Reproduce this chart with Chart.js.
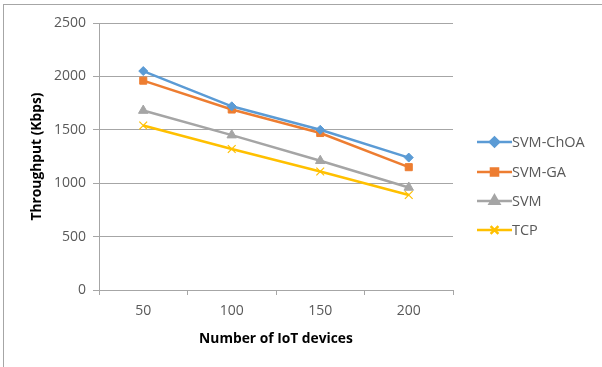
<!DOCTYPE html>
<html>
<head>
<meta charset="utf-8">
<script src="https://cdn.jsdelivr.net/npm/chart.js@4/dist/chart.umd.min.js"></script>
<style>
  html, body { margin: 0; padding: 0; background: #fff; }
  #wrap { position: relative; width: 602px; height: 367px; }
  #frame { position: absolute; left: 3px; top: 4px; width: 599px; height: 363px;
           border-left: 1px solid #a6a6a6; border-top: 1px solid #a6a6a6; box-sizing: border-box; }
  canvas { position: absolute; left: 0; top: 0; }
</style>
</head>
<body>
<div id="wrap">
  <div id="frame"></div>
  <canvas id="c" width="602" height="367"></canvas>
</div>
<script>
// Throughput per number of IoT devices
const categories = ['50', '100', '150', '200'];
const svmChoa = [2050, 1720, 1500, 1240];
const svmGa   = [1960, 1690, 1470, 1150];
const svm     = [1680, 1450, 1210, 960];
const tcp     = [1540, 1320, 1110, 890];
const yTicks  = [0, 500, 1000, 1500, 2000, 2500];

const FONT = '"Open Sans", Lato, sans-serif';
const TEXT = '#595959';
const GRID = '#a6a6a6';

// Legend on the right: line segment with marker, then the label
const sideLegend = {
  id: 'sideLegend',
  afterDraw(chart) {
    const ctx = chart.ctx;
    const ys = [142, 172, 201, 230];
    chart.data.datasets.forEach((ds, i) => {
      const y = ys[i];
      ctx.save();
      ctx.strokeStyle = ds.borderColor;
      ctx.lineWidth = 2.5;
      ctx.beginPath();
      ctx.moveTo(477, y);
      ctx.lineTo(512, y);
      ctx.stroke();
      ctx.fillStyle = ds.borderColor;
      ctx.strokeStyle = ds.borderColor;
      Chart.helpers.drawPoint(ctx, {
        pointStyle: ds.pointStyle,
        radius: ds.pointRadius,
        borderWidth: ds.pointBorderWidth || 1
      }, 494.5, y);
      ctx.fillStyle = TEXT;
      ctx.font = '14.5px ' + FONT;
      ctx.textBaseline = 'middle';
      ctx.textAlign = 'left';
      ctx.fillText(ds.label, 512, y + 1);
      ctx.restore();
    });
  }
};

function series(label, data, color, style, radius, pbw) {
  return {
    label, data,
    borderColor: color,
    backgroundColor: color,
    pointBackgroundColor: color,
    pointBorderColor: color,
    borderWidth: 2.5,
    pointStyle: style,
    pointRadius: radius,
    pointHoverRadius: radius,
    pointBorderWidth: pbw,
    tension: 0
  };
}

new Chart(document.getElementById('c'), {
  type: 'line',
  data: {
    labels: categories,
    datasets: [
      series('SVM-ChOA', svmChoa, '#5b9bd5', 'rectRot', 4.5, 1),
      series('SVM-GA', svmGa, '#ed7d31', 'rect', 5, 1),
      series('SVM', svm, '#a5a5a5', 'triangle', 5.5, 1),
      series('TCP', tcp, '#ffc000', 'crossRot', 5.5, 1.2)
    ]
  },
  options: {
    responsive: false,
    animation: false,
    events: [],
    layout: { padding: { left: 29, right: 149, top: 23, bottom: 20 } },
    plugins: { legend: { display: false }, tooltip: { enabled: false } },
    scales: {
      x: {
        type: 'category',
        offset: true,
        grid: { offset: true, drawOnChartArea: false, drawTicks: true, tickLength: 5, color: GRID },
        border: { color: GRID, width: 1 },
        ticks: { color: TEXT, font: { family: FONT, size: 14 }, padding: 8 },
        title: { display: true, text: 'Number of IoT devices', color: '#000',
                 font: { family: FONT, size: 13.8, weight: 'bold' }, padding: 0 },
        afterFit(s) { s.height = 57; }
      },
      y: {
        min: 0, max: 2500,
        afterBuildTicks(s) { s.ticks = yTicks.map(v => ({ value: v })); },
        grid: { color: GRID, tickLength: 6, lineWidth: 1 },
        border: { color: GRID, width: 1 },
        ticks: { color: TEXT, font: { family: FONT, size: 14 }, padding: 7,
                 callback: v => String(v) },
        title: { display: true, text: 'Throughput (Kbps)', color: '#000',
                 font: { family: FONT, size: 13.8, weight: 'bold' }, padding: 0 },
        afterFit(s) { s.width = 70; }
      }
    }
  },
  plugins: [sideLegend]
});
</script>
</body>
</html>
